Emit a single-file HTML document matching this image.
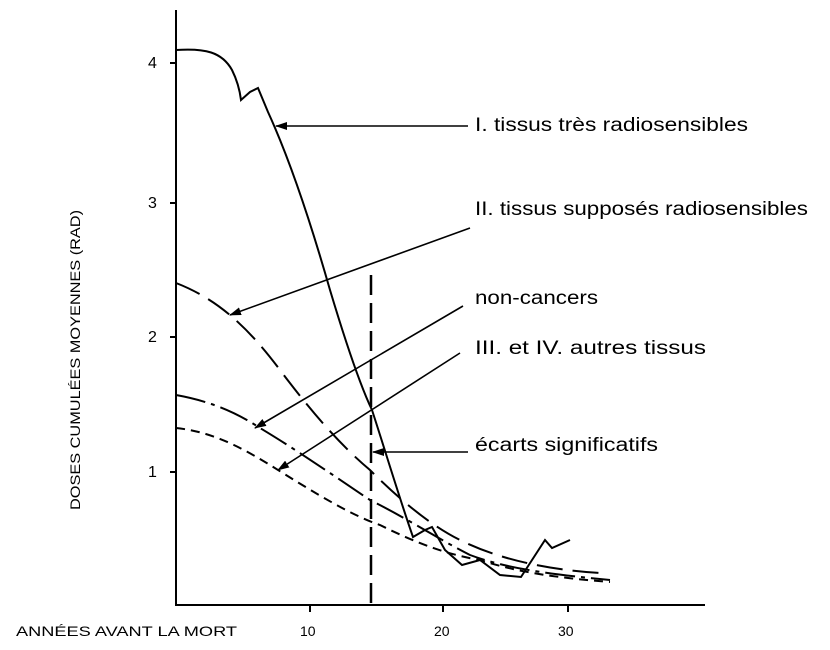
<!DOCTYPE html>
<html><head><style>body{margin:0;background:#fff}svg{display:block}text{font-family:"Liberation Sans",sans-serif;fill:#000}</style></head><body>
<svg width="830" height="650" viewBox="0 0 830 650">
<defs><marker id="a" markerWidth="12" markerHeight="8" refX="11" refY="4" orient="auto" markerUnits="userSpaceOnUse"><path d="M12,4 L0,0 L0,8 Z" fill="#000"/></marker></defs>
<g stroke="#000" fill="none" stroke-width="2">
<path d="M176,10 V605 H705"/>
<path d="M170,63 H176 M170,203 H176 M170,337 H176 M170,472 H176 M310,605 V612 M443,605 V612 M568,605 V612"/>
<path d="M176,50 C205,48 222,52 232,70 C238,82 240,92 241,100 L250,92 L258,88 L268,112 C290,160 310,220 330,290 C345,340 360,385 372,410 C385,450 400,500 413,537 L425,530 L432,527 L445,550 L462,565 L480,560 L500,575 L521,577 L545,540 L552,548 L570,540"/>
<path d="M176,283 C220,300 250,330 280,370 C310,410 340,445 370,470 C400,500 430,525 460,540 C500,560 550,570 600,573" stroke-dasharray="26,10"/>
<path d="M176,395 C215,402 240,415 260,428 C300,452 340,480 370,500 C410,520 440,540 470,555 C510,570 560,575 610,580" stroke-dasharray="30,6,4,6"/>
<path d="M176,428 C215,432 245,450 270,465 C310,490 350,515 380,525 C420,545 450,555 480,560 C520,573 560,578 610,582" stroke-dasharray="9,6"/>
<path d="M371,275 V605" stroke-dasharray="20,8" stroke-width="2.5"/>
<g stroke-width="1.6">
<path d="M468,126 L276,126" marker-end="url(#a)"/>
<path d="M470,228 L230,315" marker-end="url(#a)"/>
<path d="M463,306 L255,428" marker-end="url(#a)"/>
<path d="M460,353 L278,470" marker-end="url(#a)"/>
<path d="M468,452 L373,452" marker-end="url(#a)"/>
</g></g>
<g font-size="16">
<text x="148" y="68">4</text><text x="148" y="208">3</text><text x="148" y="342">2</text><text x="148" y="477">1</text>
<text x="300" y="636" font-size="14">10</text><text x="434" y="636" font-size="14">20</text><text x="558" y="636" font-size="14">30</text>
<text x="16" y="636" font-size="14" textLength="221" lengthAdjust="spacingAndGlyphs">ANNÉES AVANT LA MORT</text>
<text transform="translate(80,510) rotate(-90)" font-size="14" textLength="300" lengthAdjust="spacingAndGlyphs">DOSES CUMULÉES MOYENNES (RAD)</text>
<g font-size="19">
<text x="475" y="131" textLength="273" lengthAdjust="spacingAndGlyphs">I. tissus très radiosensibles</text>
<text x="475" y="215" textLength="333" lengthAdjust="spacingAndGlyphs">II. tissus supposés radiosensibles</text>
<text x="475" y="304" textLength="123" lengthAdjust="spacingAndGlyphs">non-cancers</text>
<text x="475" y="354" textLength="231" lengthAdjust="spacingAndGlyphs">III. et IV. autres tissus</text>
<text x="475" y="451" textLength="183" lengthAdjust="spacingAndGlyphs">écarts significatifs</text>
</g></g>
</svg></body></html>
